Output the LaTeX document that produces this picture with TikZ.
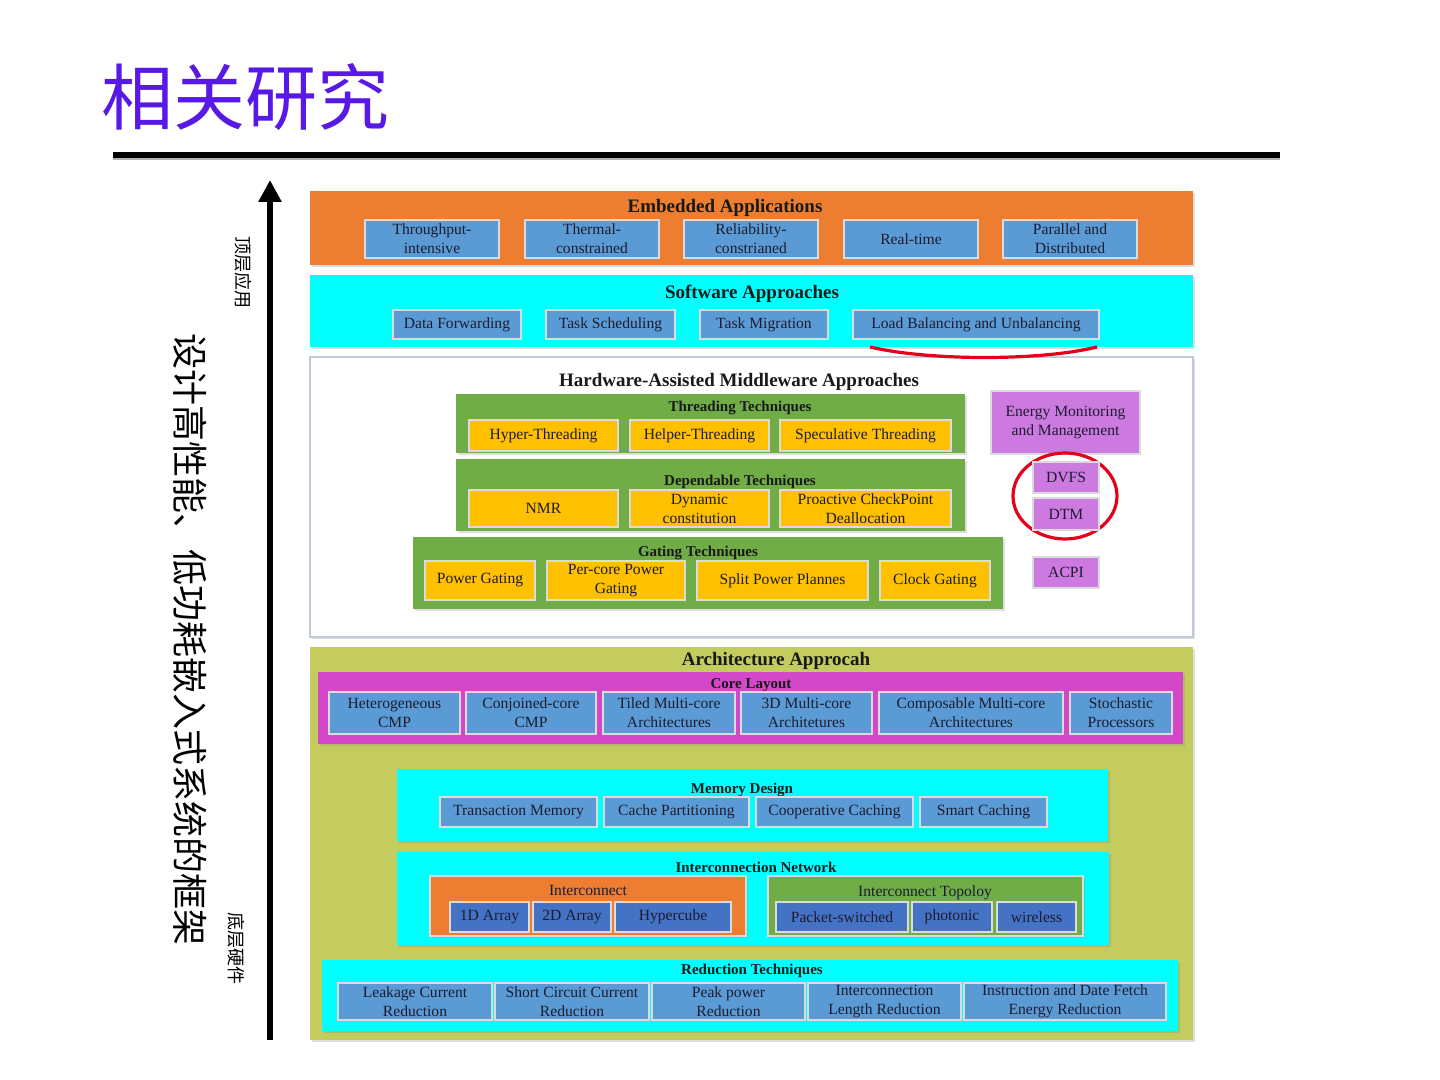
\documentclass[tikz,border=0pt]{standalone}
\usepackage{fontspec}
\setmainfont{Liberation Serif}
\newfontfamily\cjk{Noto Sans CJK SC}
\usetikzlibrary{arrows.meta, shadows}
\definecolor{titlec}{RGB}{88,24,230}
\definecolor{orng}{RGB}{237,125,49}
\definecolor{cyanc}{RGB}{0,255,255}
\definecolor{cellblue}{RGB}{91,155,213}
\definecolor{darkblue}{RGB}{68,114,196}
\definecolor{grn}{RGB}{112,173,71}
\definecolor{yel}{RGB}{255,192,0}
\definecolor{vio}{RGB}{205,122,224}
\definecolor{mag}{RGB}{210,72,200}
\definecolor{olive}{RGB}{196,204,94}
\definecolor{redc}{RGB}{226,0,26}
\definecolor{txt}{RGB}{28,28,48}
\definecolor{mwline}{RGB}{192,202,218}

\newcommand{\hdfont}{\bfseries\fontsize{9.5}{11}\selectfont}
\newcommand{\shfont}{\bfseries\fontsize{7.5}{9}\selectfont}
\newcommand{\lblfont}{\fontsize{7.8}{9.5}\selectfont}
% box from (x1,y1) to (x2,y2) in pixels: style, x1, y1, x2, y2, name, text
\newcommand{\cellbox}[7]{\node[#1, minimum width={(#4-#2)*0.5pt}, minimum height={(#5-#3)*0.5pt}] (#6) at ({(#2+#4)/2},{(#3+#5)/2}) {#7};}

\tikzset{
  layer/.style={inner sep=0pt, drop shadow={shadow xshift=0.8pt, shadow yshift=-0.8pt, opacity=0.25}},
  cell/.style={draw=white!72!gray, line width=0.6pt, inner sep=0pt, align=center, font=\lblfont, text=txt},
  head/.style={font=\hdfont, inner sep=0pt, text=black!90, yshift=-1pt},
  subhead/.style={font=\shfont, inner sep=0pt, text=black!90, yshift=-1pt},
  plainhead/.style={font=\lblfont, inner sep=0pt, text=txt},
  ring/.style={draw=redc, line width=1.6pt},
}

\begin{document}
\begin{tikzpicture}[x=0.5pt, y=-0.5pt]
    \useasboundingbox (0,0) rectangle (1440,1080);

    % titre et trait
    \node[font=\cjk\fontsize{36}{36}\selectfont, text=titlec, inner sep=0pt] (title) at (245,97) {相关研究};
    \draw[gray!60, line width=1.5pt] (113,159) -- (1280,159);
    \draw[black, line width=3pt] (113,155) -- (1280,155);

    % fleche et textes verticaux
    \coordinate (arrbot) at (270,1040);
    \coordinate (arrtop) at (270,180);
    \draw[line width=3pt, -{Triangle[length=11pt, width=11pt]}] (arrbot) -- (arrtop);
    \node[rotate=-90, font=\cjk\fontsize{18}{18}\selectfont, inner sep=0pt] (vtitle) at (190,640) {设计高性能、低功耗嵌入式系统的框架};
    \node[rotate=-90, font=\cjk\fontsize{9}{9}\selectfont, inner sep=0pt] (toplbl) at (243,273) {顶层应用};
    \node[rotate=-90, font=\cjk\fontsize{9}{9}\selectfont, inner sep=0pt] (botlbl) at (236,948) {底层硬件};

    % Embedded Applications
    \cellbox{layer, fill=orng}{310}{191}{1193}{265}{emb}{}
    \node[head] (embT) at (725,206) {Embedded Applications};
    \cellbox{cell, fill=cellblue}{365}{220}{499}{258}{tput}{Throughput-\\intensive}
    \cellbox{cell, fill=cellblue}{525}{220}{659}{258}{therm}{Thermal-\\constrained}
    \cellbox{cell, fill=cellblue}{684}{220}{818}{258}{relia}{Reliability-\\constrianed}
    \cellbox{cell, fill=cellblue}{844}{220}{978}{258}{rtime}{Real-time}
    \cellbox{cell, fill=cellblue}{1003}{220}{1137}{258}{paral}{Parallel and\\Distributed}

    % Software Approaches
    \cellbox{layer, fill=cyanc}{310}{275}{1193}{347}{soft}{}
    \node[head] (softT) at (752,292) {Software Approaches};
    \cellbox{cell, fill=cellblue}{393}{310}{521}{339}{dataf}{Data Forwarding}
    \cellbox{cell, fill=cellblue}{546}{310}{675}{339}{tsched}{Task Scheduling}
    \cellbox{cell, fill=cellblue}{700}{310}{828}{339}{tmigr}{Task Migration}
    \cellbox{cell, fill=cellblue}{853}{310}{1099}{339}{loadb}{Load Balancing and Unbalancing}

    % Hardware-Assisted Middleware Approaches
    \cellbox{layer, fill=white, draw=mwline, line width=0.8pt}{310}{357}{1193}{637}{mid}{}
    \node[head] (midT) at (739,380) {Hardware-Assisted Middleware Approaches};
    \draw[ring] (870,347) .. controls (930,361) and (1040,361) .. (1097,347);

    \cellbox{layer, fill=grn}{456}{394}{965}{453}{thread}{}
    \node[subhead] (threadT) at (740,406) {Threading Techniques};
    \cellbox{cell, fill=yel}{469}{420}{618}{451}{hyper}{Hyper-Threading}
    \cellbox{cell, fill=yel}{630}{420}{769}{451}{helper}{Helper-Threading}
    \cellbox{cell, fill=yel}{780}{420}{951}{451}{specul}{Speculative Threading}

    \cellbox{layer, fill=grn}{456}{459}{965}{531}{depend}{}
    \node[subhead] (dependT) at (740,480) {Dependable Techniques};
    \cellbox{cell, fill=yel}{469}{490}{618}{527}{nmr}{NMR}
    \cellbox{cell, fill=yel}{630}{490}{769}{527}{dyncon}{Dynamic\\constitution}
    \cellbox{cell, fill=yel}{780}{490}{951}{527}{proact}{Proactive CheckPoint\\Deallocation}

    \cellbox{layer, fill=grn}{413}{537}{1003}{609}{gating}{}
    \node[subhead] (gatingT) at (698,551) {Gating Techniques};
    \cellbox{cell, fill=yel}{425}{561}{535}{600}{pgate}{Power Gating}
    \cellbox{cell, fill=yel}{547}{561}{685}{600}{pcgate}{Per-core Power\\Gating}
    \cellbox{cell, fill=yel}{697}{561}{868}{600}{splitp}{Split Power Plannes}
    \cellbox{cell, fill=yel}{880}{561}{990}{600}{cgate}{Clock Gating}

    \cellbox{cell, fill=vio}{991}{391}{1140}{454}{energy}{Energy Monitoring\\and Management}
    \draw[ring] (1065,496) ellipse [x radius=26pt, y radius=21.5pt];
    \cellbox{cell, fill=vio}{1033}{462}{1099}{493}{dvfs}{DVFS}
    \cellbox{cell, fill=vio}{1033}{498}{1099}{530}{dtm}{DTM}
    \cellbox{cell, fill=vio}{1033}{557}{1099}{588}{acpi}{ACPI}

    % Architecture Approcah
    \cellbox{layer, fill=olive}{310}{647}{1193}{1040}{arch}{}
    \node[head] (archT) at (776,659) {Architecture Approcah};

    \cellbox{layer, fill=mag}{318}{672}{1183}{744}{core}{}
    \node[subhead] (coreT) at (751,683) {Core Layout};
    \cellbox{cell, fill=cellblue}{329}{692}{460}{734}{hetero}{Heterogeneous\\CMP}
    \cellbox{cell, fill=cellblue}{466}{692}{596}{734}{conj}{Conjoined-core\\CMP}
    \cellbox{cell, fill=cellblue}{603}{692}{735}{734}{tiled}{Tiled Multi-core\\Architectures}
    \cellbox{cell, fill=cellblue}{741}{692}{872}{734}{threed}{3D Multi-core\\Architetures}
    \cellbox{cell, fill=cellblue}{879}{692}{1063}{734}{compos}{Composable Multi-core\\Architectures}
    \cellbox{cell, fill=cellblue}{1070}{692}{1172}{734}{stoch}{Stochastic\\Processors}

    \cellbox{layer, fill=cyanc}{397}{769}{1108}{841}{mem}{}
    \node[subhead] (memT) at (742,788) {Memory Design};
    \cellbox{cell, fill=cellblue}{440}{797}{597}{827}{transm}{Transaction Memory}
    \cellbox{cell, fill=cellblue}{604}{797}{749}{827}{cachep}{Cache Partitioning}
    \cellbox{cell, fill=cellblue}{756}{797}{913}{827}{coopc}{Cooperative Caching}
    \cellbox{cell, fill=cellblue}{920}{797}{1047}{827}{smartc}{Smart Caching}

    \cellbox{layer, fill=cyanc}{397}{852}{1109}{945}{inet}{}
    \node[subhead] (inetT) at (756,865) {Interconnection Network};
    \cellbox{layer, fill=orng, draw=white!72!gray, line width=0.6pt}{430}{876}{746}{936}{icon}{}
    \node[plainhead] (iconT) at (588,890) {Interconnect};
    \cellbox{cell, fill=darkblue}{450}{902}{529}{932}{onedim}{1D Array}
    \cellbox{cell, fill=darkblue}{533}{902}{611}{932}{twodim}{2D Array}
    \cellbox{cell, fill=darkblue}{615}{902}{731}{932}{hcube}{Hypercube}
    \cellbox{layer, fill=grn, draw=white!72!gray, line width=0.6pt}{768}{876}{1083}{936}{topo}{}
    \node[plainhead] (topoT) at (925,893) {Interconnect Topoloy};
    \cellbox{cell, fill=darkblue}{776}{902}{908}{932}{packet}{Packet-switched}
    \cellbox{cell, fill=darkblue}{912}{902}{992}{932}{photon}{photonic}
    \cellbox{cell, fill=darkblue}{997}{902}{1076}{932}{wless}{wireless}

    \cellbox{layer, fill=cyanc}{322}{960}{1178}{1031}{reduc}{}
    \node[subhead] (reducT) at (752,969) {Reduction Techniques};
    \cellbox{cell, fill=cellblue}{338}{983}{492}{1020}{leak}{Leakage Current\\Reduction}
    \cellbox{cell, fill=cellblue}{495}{983}{649}{1020}{shortc}{Short Circuit Current\\Reduction}
    \cellbox{cell, fill=cellblue}{652}{983}{805}{1020}{peakp}{Peak power\\Reduction}
    \cellbox{cell, fill=cellblue}{808}{983}{961}{1020}{ilen}{Interconnection\\Length Reduction}
    \cellbox{cell, fill=cellblue}{964}{983}{1166}{1020}{fetch}{Instruction and Date Fetch\\Energy Reduction}
\end{tikzpicture}
\end{document}
